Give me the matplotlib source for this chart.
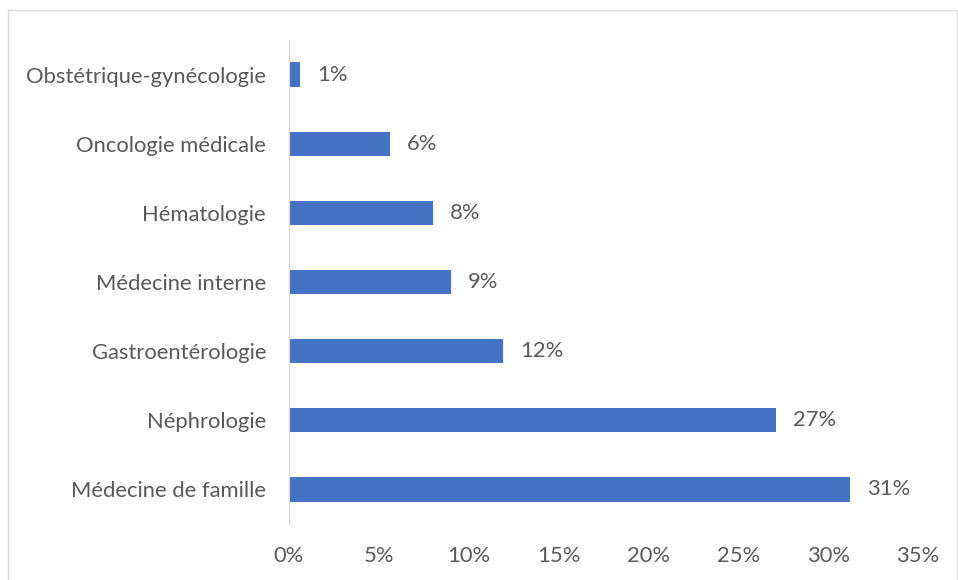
import matplotlib.pyplot as plt
from matplotlib.patches import Rectangle
from matplotlib.ticker import FuncFormatter

specialites = ['Médecine de famille', 'Néphrologie', 'Gastroentérologie',
               'Médecine interne', 'Hématologie', 'Oncologie médicale',
               'Obstétrique-gynécologie']
pourcentages = [31.2, 27.1, 11.9, 9.0, 8.0, 5.6, 0.6]
ticks = [0, 5, 10, 15, 20, 25, 30, 35]

plt.rcParams['font.family'] = ['Lato', 'DejaVu Sans']
gris = '#595959'
taille = 15.8

fig = plt.figure(figsize=(9.58, 5.8), dpi=100)
ax = fig.add_axes([289 / 958, 1 - 524 / 580, 629 / 958, 484 / 580])

# cadre du graphique
fig.patches.append(Rectangle((8 / 958, -0.01), 949 / 958, 1 - 10 / 580 + 0.01,
                             transform=fig.transFigure, fill=False,
                             edgecolor='#D9D9D9', linewidth=1))

y = range(len(specialites))
ax.barh(y, pourcentages, height=0.35, color='#4472C4')
for i, v in enumerate(pourcentages):
    ax.text(v + 0.95, i, f'{v:.0f}%', va='center', ha='left',
            fontsize=taille, color=gris)

ax.set_xlim(0, 35)
ax.set_ylim(-0.5, len(specialites) - 0.5)
ax.set_xticks(ticks)
ax.xaxis.set_major_formatter(FuncFormatter(lambda x, p: f'{x:.0f}%'))
ax.set_yticks(list(y))
ax.set_yticklabels(specialites)
ax.tick_params(axis='both', length=0, labelsize=taille, labelcolor=gris)
ax.tick_params(axis='y', pad=16.5)
ax.tick_params(axis='x', pad=16)

for s in ['top', 'right', 'bottom']:
    ax.spines[s].set_visible(False)
ax.spines['left'].set_color('#D9D9D9')

plt.savefig('out.png', dpi=100)
